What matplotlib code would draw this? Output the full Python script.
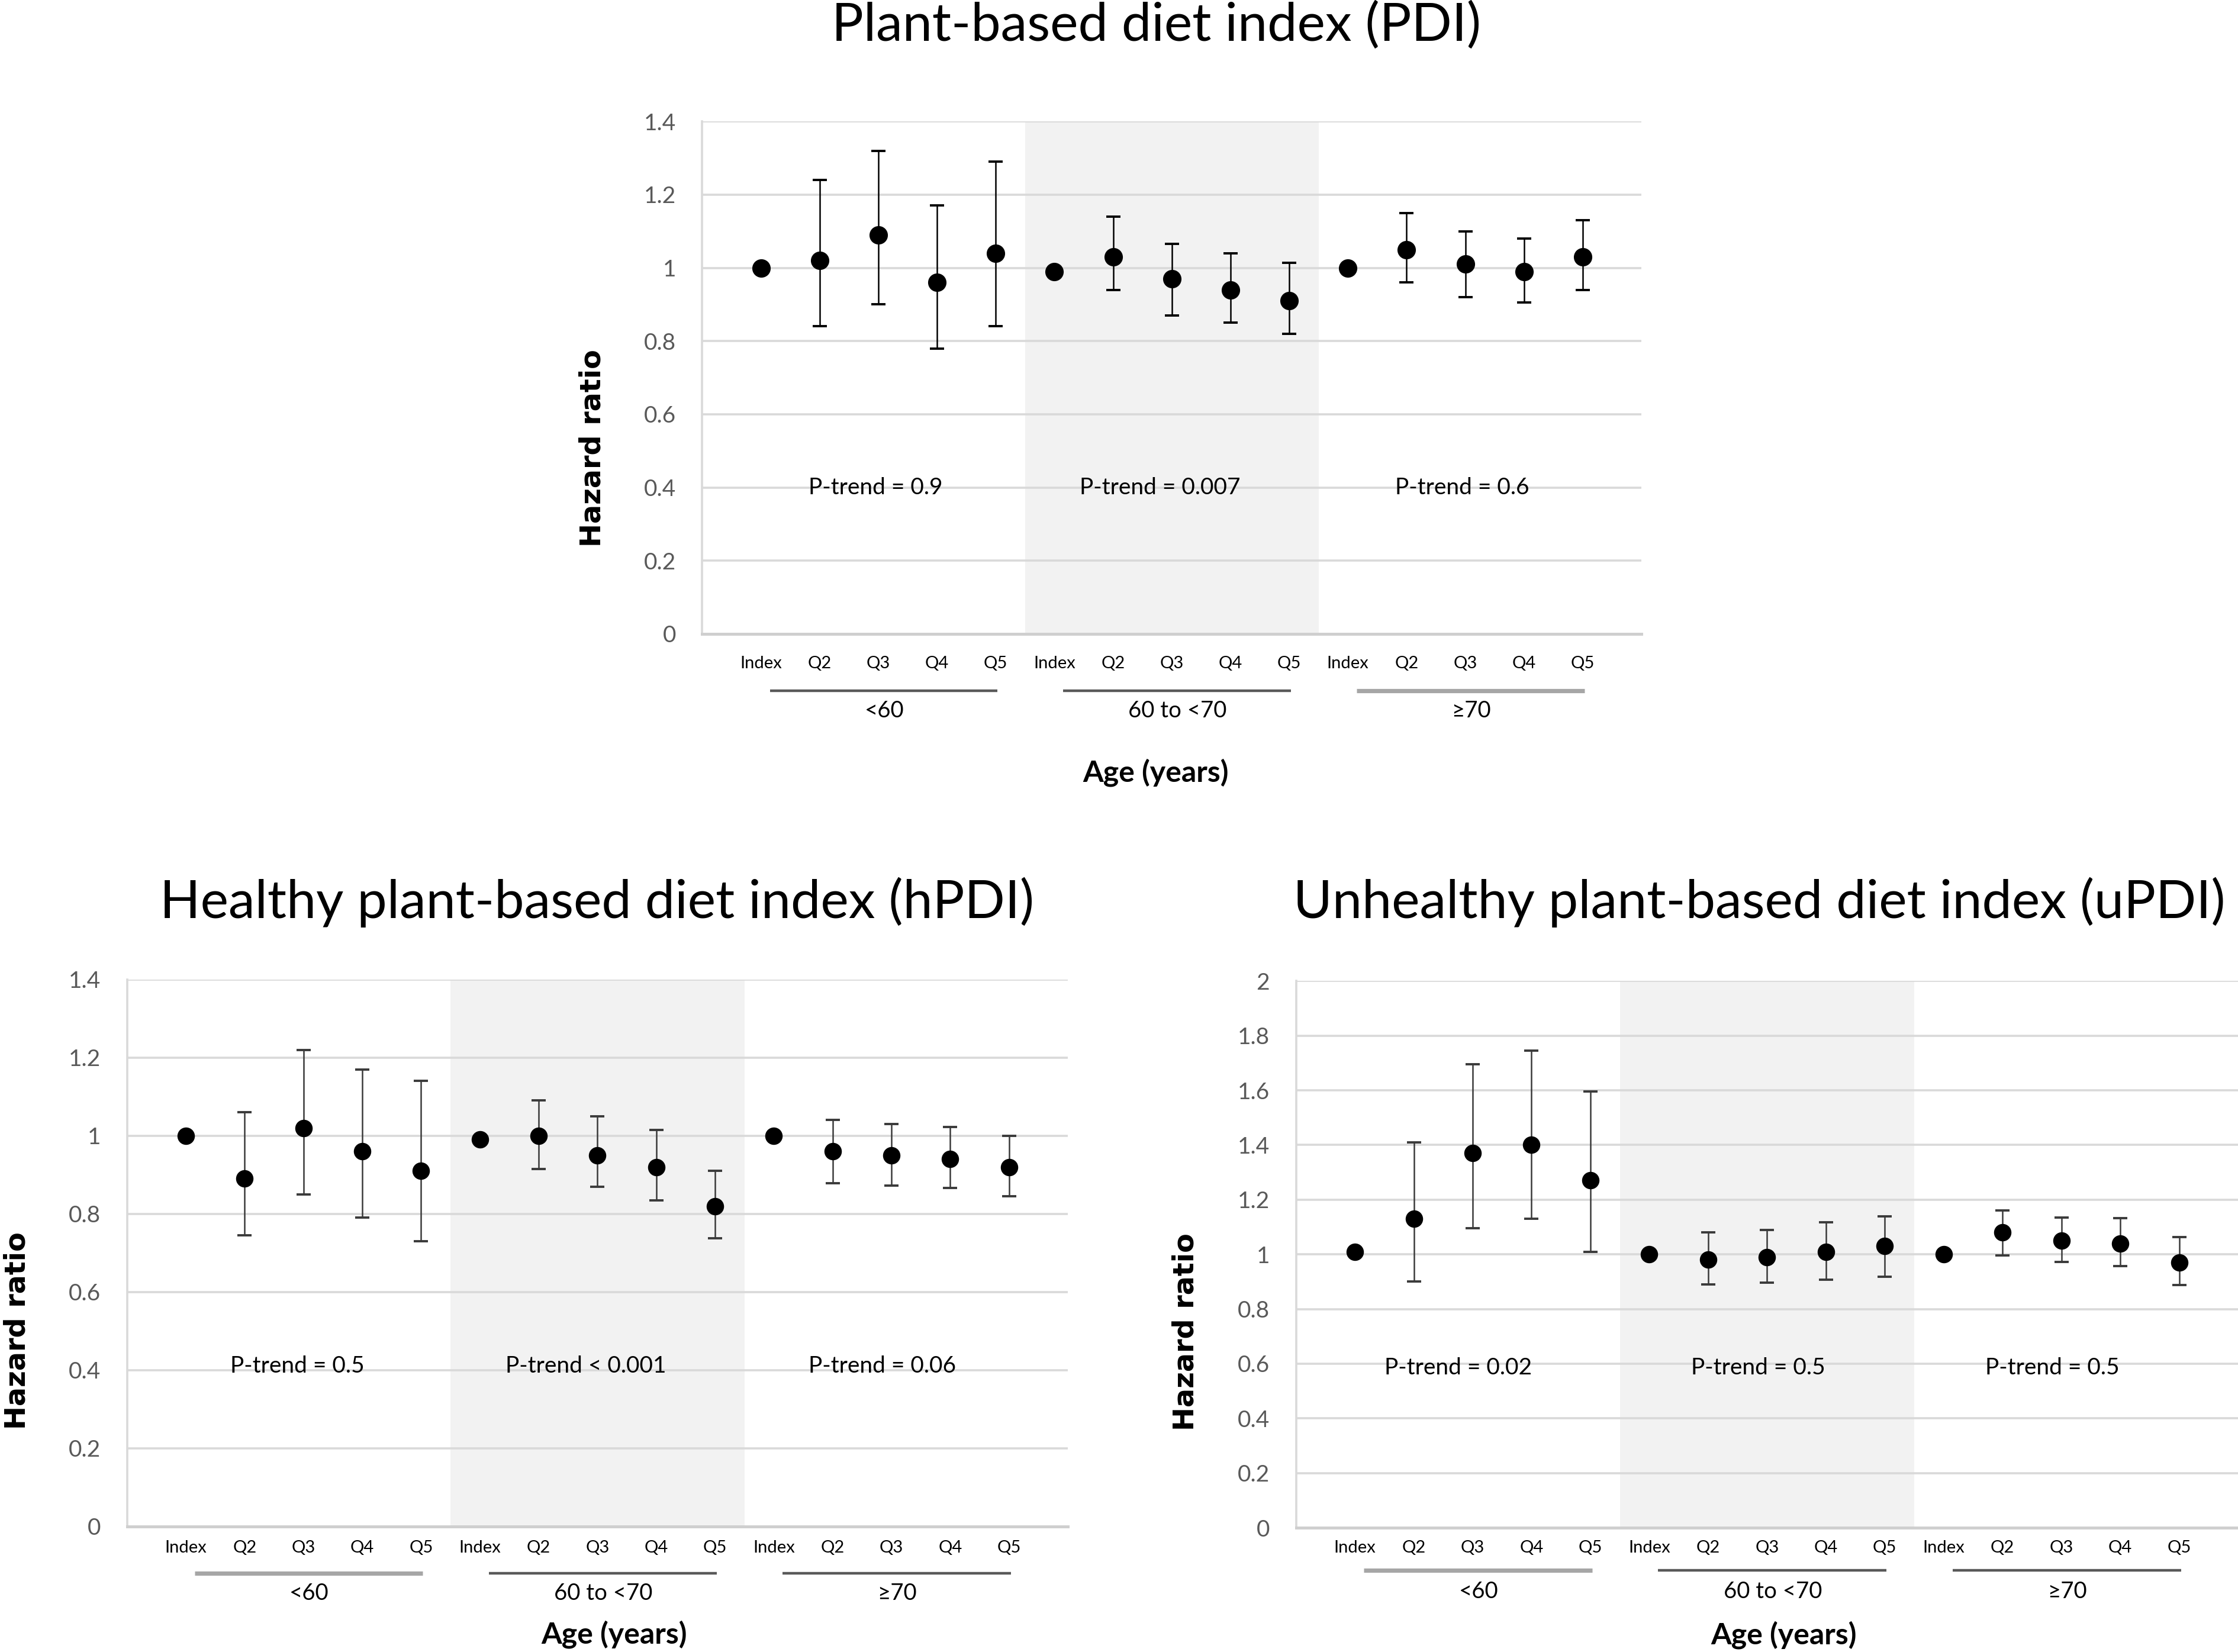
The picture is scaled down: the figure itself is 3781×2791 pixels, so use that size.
import numpy as np
import matplotlib
matplotlib.use('Agg')
import matplotlib.pyplot as plt
import matplotlib.ticker as ticker
import matplotlib.transforms as mtransforms

plt.rcParams['font.family'] = ['Lato', 'DejaVu Sans']

quintiles  = ['Index', 'Q2', 'Q3', 'Q4', 'Q5']
age_groups = ['<60', '60 to <70', '≥70']

# hazard ratios (point, lower CI, upper CI), 5 quintiles x 3 age groups
pdi_hr = [1.00, 1.02, 1.09, 0.96, 1.04,  0.99, 1.03, 0.97, 0.94, 0.91,  1.00, 1.05, 1.01, 0.99, 1.03]
pdi_lo = [1.00, 0.84, 0.90, 0.78, 0.84,  0.99, 0.94, 0.87, 0.85, 0.82,  1.00, 0.96, 0.92, 0.905, 0.94]
pdi_hi = [1.00, 1.24, 1.32, 1.17, 1.29,  0.99, 1.14, 1.065, 1.04, 1.013, 1.00, 1.15, 1.10, 1.08, 1.13]

hpdi_hr = [1.00, 0.89, 1.02, 0.96, 0.91,  0.99, 1.00, 0.95, 0.92, 0.82,  1.00, 0.96, 0.95, 0.94, 0.92]
hpdi_lo = [1.00, 0.745, 0.85, 0.79, 0.73, 0.99, 0.915, 0.87, 0.835, 0.737, 1.00, 0.878, 0.872, 0.866, 0.845]
hpdi_hi = [1.00, 1.06, 1.22, 1.17, 1.14,  0.99, 1.09, 1.05, 1.015, 0.91,  1.00, 1.04, 1.03, 1.023, 1.00]

updi_hr = [1.01, 1.13, 1.37, 1.40, 1.27,  1.00, 0.98, 0.99, 1.01, 1.03,  1.00, 1.08, 1.05, 1.04, 0.97]
updi_lo = [1.01, 0.90, 1.095, 1.13, 1.01, 1.00, 0.89, 0.896, 0.908, 0.918, 1.00, 0.997, 0.972, 0.958, 0.887]
updi_hi = [1.01, 1.41, 1.695, 1.745, 1.595, 1.00, 1.08, 1.09, 1.117, 1.14, 1.00, 1.16, 1.135, 1.132, 1.064]

pdi_ptrend  = ['P-trend = 0.9', 'P-trend = 0.007', 'P-trend = 0.6']
hpdi_ptrend = ['P-trend = 0.5', 'P-trend < 0.001', 'P-trend = 0.06']
updi_ptrend = ['P-trend = 0.02', 'P-trend = 0.5', 'P-trend = 0.5']

grid_c  = '#d9d9d9'
shade_c = '#f2f2f2'
tick_c  = '#595959'


def draw_panel(fig, rect, title, title_xy, hr, lo, hi, ptrend, ptrend_y, ymax, ystep,
               rows_y, age_x, hr_label_y, bar_color, line_styles, msize):
    ax = fig.add_axes(rect)
    x = np.arange(1, 16)
    hr = np.array(hr)
    lo = np.array(lo)
    hi = np.array(hi)

    ax.axvspan(5.5, 10.5, facecolor=shade_c, edgecolor='none', zorder=0)
    for yv in np.arange(ystep, ymax + ystep / 2, ystep):
        ax.axhline(yv, color=grid_c, lw=1.3, zorder=1)

    yerr = np.vstack([hr - lo, hi - hr])
    ax.errorbar(x, hr, yerr=yerr, fmt='o', color='black', ms=msize, ecolor=bar_color,
                elinewidth=0.9, capsize=4.2, capthick=1.4, zorder=3)

    ax.set_xlim(0, 16)
    ax.set_ylim(0, ymax)
    ax.set_yticks(np.arange(0, ymax + ystep / 2, ystep))
    ax.yaxis.set_major_formatter(ticker.FuncFormatter(lambda v, p: '%g' % round(v, 2)))
    ax.tick_params(axis='y', length=0, pad=16, labelsize=14, labelcolor=tick_c)
    ax.set_xticks([])
    for s in ['top', 'right']:
        ax.spines[s].set_visible(False)
    ax.spines['left'].set_color(grid_c)
    ax.spines['left'].set_linewidth(1.3)
    ax.spines['bottom'].set_color('#cfcfcf')
    ax.spines['bottom'].set_linewidth(1.8)

    trans = mtransforms.blended_transform_factory(ax.transData, ax.transAxes)
    y_tick, y_line, y_group, y_age = rows_y
    for i, xi in enumerate(x):
        ax.text(xi, y_tick, quintiles[i % 5], transform=trans, ha='center', va='center',
                fontsize=10.5, color='black')
    for g in range(3):
        lc, lw = line_styles[g]
        ax.plot([g * 5 + 1.15, g * 5 + 5.03], [y_line, y_line], transform=trans,
                color=lc, lw=lw, clip_on=False, solid_capstyle='butt')
        ax.text(g * 5 + 3.1, y_group, age_groups[g], transform=trans, ha='center', va='center',
                fontsize=13.8, color='black')
        ax.text(ptrend[g][0], ptrend_y, ptrend[g][1], ha='center', va='center',
                fontsize=14, color='black', zorder=4)
    ax.text(age_x, y_age, 'Age (years)', transform=trans, ha='center', va='center',
            fontsize=18, fontweight='bold', color='black')
    ax.text(-0.117, hr_label_y, 'Hazard ratio', transform=ax.transAxes, rotation=90,
            ha='center', va='center', fontsize=17.2, fontweight='bold',
            family=['DejaVu Sans'], color='black')
    fig.text(title_xy[0], title_xy[1], title, ha='center', va='center', fontsize=32.3,
             color='black')
    return ax


fig = plt.figure(figsize=(18.905, 13.955), dpi=200)

dark = ('#595959', 1.6)
light = ('#a6a6a6', 2.6)

draw_panel(fig, [0.3138, 0.6163, 0.4196, 0.3102], 'Plant-based diet index (PDI)', (0.5166, 0.9844),
           pdi_hr, pdi_lo, pdi_hi,
           list(zip([2.95, 7.8, 12.95], pdi_ptrend)), 0.4, 1.4, 0.2,
           (-0.058, -0.111, -0.150, -0.270), 7.73, 0.362, 'black', [dark, dark, light], 10.2)

draw_panel(fig, [0.0568, 0.0761, 0.4203, 0.3310], 'Healthy plant-based diet index (hPDI)', (0.2666, 0.4538),
           hpdi_hr, hpdi_lo, hpdi_hi,
           list(zip([2.9, 7.8, 12.85], hpdi_ptrend)), 0.41, 1.4, 0.2,
           (-0.039, -0.086, -0.123, -0.198), 8.28, 0.358, '#3a3a3a', [light, dark, dark], 9.6)

draw_panel(fig, [0.5791, 0.0752, 0.4209, 0.3310], 'Unhealthy plant-based diet index (uPDI)', (0.7860, 0.4538),
           updi_hr, updi_lo, updi_hi,
           list(zip([2.75, 7.85, 12.85], updi_ptrend)), 0.585, 2.0, 0.2,
           (-0.037, -0.078, -0.117, -0.196), 8.28, 0.358, '#3a3a3a', [light, dark, dark], 9.6)

fig.savefig('out.png', dpi=200, facecolor='white')
